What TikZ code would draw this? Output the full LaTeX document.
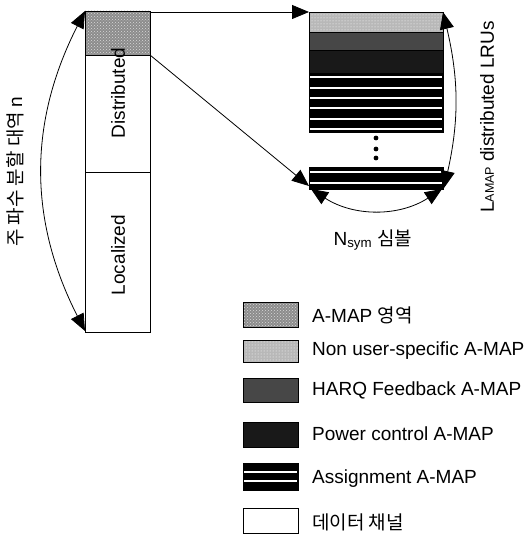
\documentclass[tikz,border=0pt]{standalone}
\usepackage{fontspec}
\setmainfont{Liberation Sans}
\newfontfamily\kr{Noto Sans CJK KR}
\usetikzlibrary{arrows.meta,patterns}
\begin{document}
\begin{tikzpicture}[x=1pt,y=-1pt,
  arr/.style={-{Triangle[length=17pt,width=14pt]}, line width=0.8pt},
  darr/.style={{Triangle[length=17pt,width=14pt]}-{Triangle[length=17pt,width=14pt]}, line width=0.8pt},
  lbl/.style={font=\fontsize{19}{21}\selectfont, inner sep=0pt},
  amap/.style={fill=black!45, draw=black, line width=0.8pt},
  amapdots/.style={pattern=crosshatch dots, pattern color=white!85!black},
  nonuser/.style={fill=black!28, draw=black, line width=0.6pt},
  nudots/.style={pattern=dots, pattern color=white},
  harq/.style={fill=black!72, draw=black, line width=0.6pt},
  power/.style={fill=black!90, draw=black, line width=0.6pt},
  assign/.style={fill=black, draw=black, line width=0.6pt},
  wline/.style={white, line width=1.1pt},
  data/.style={fill=white, draw=black, line width=0.8pt}]
\useasboundingbox (0,0) rectangle (531,537);

% left bar
\draw[data] (85,11) rectangle (150,332);
\fill[black!45] (85,11) rectangle (150,55);
\fill[amapdots] (85,11) rectangle (150,55);
\draw[line width=0.8pt] (85,11) rectangle (150,332);
\draw[line width=0.8pt] (85,55) -- (150,55);
\draw[line width=0.8pt] (85,172) -- (150,172);
\node[lbl, rotate=90] (dist) at (118,93) {Distributed};
\node[lbl, rotate=90] (loc) at (118,255) {Localized};
\coordinate (barTR) at (150,12);
\coordinate (barMR) at (150,55);
\coordinate (barTL) at (85,11);
\coordinate (barBL) at (85,331);

% right block
\draw[nonuser] (309,12) rectangle (443,32);
\fill[nudots] (309,12) rectangle (443,32);
\draw[line width=0.6pt] (309,12) rectangle (443,32);
\draw[harq] (309,32) rectangle (443,50);
\draw[power] (309,50) rectangle (443,73);
\draw[assign] (309,73) rectangle (443,132);
\foreach \yy in {77,88,98,108,119,129} \draw[wline] (310,\yy) -- (442,\yy);
\foreach \yy in {138,149,158} \fill (376,\yy) circle (2.4pt);
\draw[assign] (309,167) rectangle (443,189);
\foreach \yy in {172,183} \draw[wline] (310,\yy) -- (442,\yy);
\coordinate (blkTL) at (309,12);
\coordinate (blkBL) at (309,186);
\coordinate (blkTR) at (443,12);
\coordinate (blkBR) at (444,188);
\coordinate (bl) at (311,189);
\coordinate (br) at (442,189);

% connectors
\draw[arr] (barTR) -- (blkTL);
\draw[arr] (barMR) -- (blkBL);
\draw[darr] (barTL) to[bend right=27] (barBL);
\draw[darr] (blkTR) to[bend left=13] (blkBR);
\draw[darr] (bl) to[bend right=33] (br);

% labels
\node[lbl] (nsym) at (373,240) {N\textsubscript{sym} {\kr 심볼}};
\node[lbl, rotate=90] (lamap) at (487,117) {L{\fontsize{12.5}{13}\selectfont AMAP} distributed LRUs};
\node[lbl, rotate=90] (band) at (15,172) {\kr 주 파수 분할 대역 \fontspec{Liberation Sans}n};

% legend
\draw[amap] (243,302) rectangle (298,327);
\fill[amapdots] (243,302) rectangle (298,327);
\draw[line width=0.8pt] (243,302) rectangle (298,327);
\draw[nonuser] (243,340) rectangle (298,362);
\fill[nudots] (243,340) rectangle (298,362);
\draw[line width=0.6pt] (243,340) rectangle (298,362);
\draw[harq] (243,378) rectangle (298,402);
\draw[power] (243,422) rectangle (298,447);
\draw[assign] (243,463) rectangle (298,490);
\foreach \yy in {472,481} \draw[wline] (244,\yy) -- (297,\yy);
\draw[data] (243,508) rectangle (298,533);

\node[lbl, anchor=west] (l1) at (312,315) {A-MAP {\kr 영역}};
\node[lbl, anchor=west] (l2) at (312,351) {Non user-specific A-MAP};
\node[lbl, anchor=west] (l3) at (312,390) {HARQ Feedback A-MAP};
\node[lbl, anchor=west] (l4) at (312,434) {Power control A-MAP};
\node[lbl, anchor=west] (l5) at (312,479) {Assignment A-MAP};
\node[lbl, anchor=west] (l6) at (312,522) {\kr 데이터 채널};
\end{tikzpicture}
\end{document}
